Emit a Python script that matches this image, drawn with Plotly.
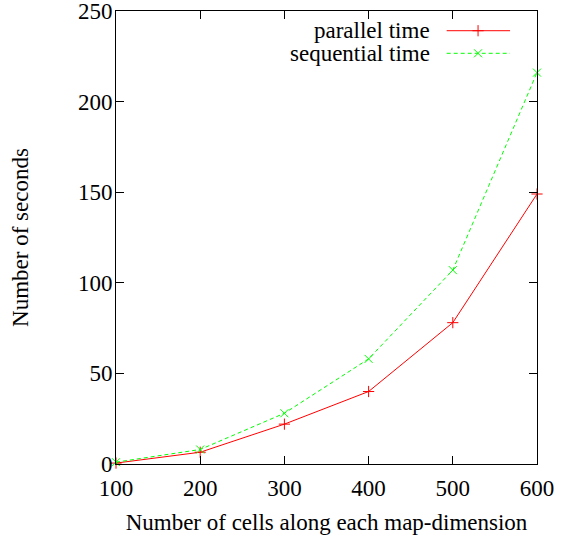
import plotly.graph_objects as go

cells = [100, 200, 300, 400, 500, 600]
parallel_time = [0.5, 6.5, 22, 40, 78, 149]
sequential_time = [1, 8, 28, 58, 107, 216]
x_ticks = [100, 200, 300, 400, 500, 600]
y_ticks = [0, 50, 100, 150, 200, 250]
series_names = ["parallel time", "sequential time"]

RED = "#ff0000"
GREEN = "#00ff00"
FONT = "Liberation Serif"
FS = 23
MS = 8

fig = go.Figure()
fig.add_trace(go.Scatter(
    x=cells, y=parallel_time, mode="lines+markers", name=series_names[0],
    line=dict(color=RED, width=1),
    marker=dict(symbol="cross-thin", size=MS, line=dict(color=RED, width=1)),
    showlegend=False, cliponaxis=False))
fig.add_trace(go.Scatter(
    x=cells, y=sequential_time, mode="lines+markers", name=series_names[1],
    line=dict(color=GREEN, width=1, dash="4px,3px"),
    marker=dict(symbol="x-thin", size=MS, line=dict(color=GREEN, width=1)),
    showlegend=False, cliponaxis=False))

# custom gnuplot-style legend (text left, sample right) on an overlay axis
leg_rows = [0.9565, 0.9066]
leg_styles = [(RED, "solid", "cross-thin"), (GREEN, "4px,3px", "x-thin")]
for name, yy, (col, dash, sym) in zip(series_names, leg_rows, leg_styles):
    fig.add_trace(go.Scatter(x=[0.7855, 0.936], y=[yy, yy], mode="lines",
                             line=dict(color=col, width=1, dash=dash),
                             xaxis="x2", yaxis="y2", showlegend=False, hoverinfo="skip"))
    fig.add_trace(go.Scatter(x=[0.86], y=[yy], mode="markers",
                             marker=dict(symbol=sym, size=MS, line=dict(color=col, width=1)),
                             xaxis="x2", yaxis="y2", showlegend=False, hoverinfo="skip"))
    fig.add_annotation(x=0.75, y=yy, xref="paper", yref="paper", text=name,
                       showarrow=False, xanchor="right", yanchor="middle",
                       font=dict(family=FONT, size=FS, color="black"))

axis_common = dict(showline=True, linecolor="black", linewidth=1, mirror="ticks",
                   ticks="inside", ticklen=8, tickwidth=1, tickcolor="black",
                   showgrid=False, zeroline=False, automargin=False,
                   ticklabeloverflow="allow",
                   tickfont=dict(family=FONT, size=FS, color="black"))

fig.update_layout(
    width=564, height=536,
    margin=dict(l=116, r=27, t=11, b=72),
    paper_bgcolor="white", plot_bgcolor="white",
    xaxis=dict(range=[100, 600], tickvals=x_ticks,
               title=dict(text="Number of cells along each map-dimension",
                          font=dict(family=FONT, size=FS, color="black"), standoff=14),
               ticklabelstandoff=3, **axis_common),
    yaxis=dict(range=[0, 250], tickvals=y_ticks,
               title=dict(text="Number of seconds",
                          font=dict(family=FONT, size=FS, color="black"), standoff=42),
               ticklabelstandoff=-2, **axis_common),
    xaxis2=dict(range=[0, 1], overlaying="x", visible=False, fixedrange=True),
    yaxis2=dict(range=[0, 1], overlaying="y", visible=False, fixedrange=True),
    showlegend=False,
)

fig.write_html("out.html", config={"displayModeBar": False},
               post_script="document.body.style.margin='0';")
